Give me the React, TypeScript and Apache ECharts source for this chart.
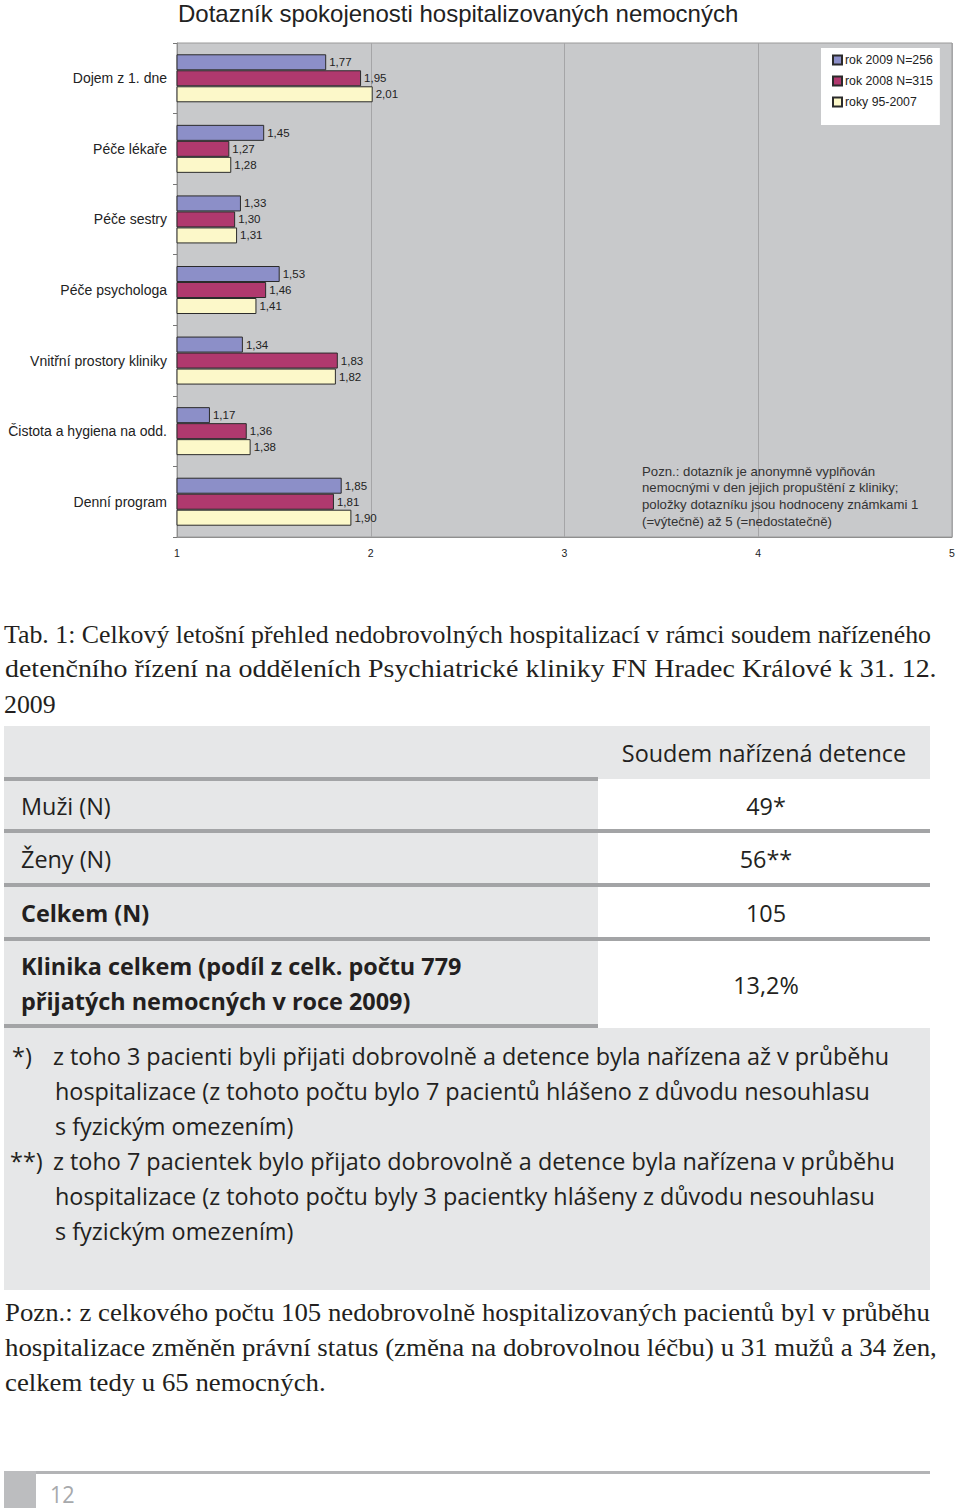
import React, { useEffect, useRef } from "react";
import * as echarts from "echarts";

// ---------- chart data ----------
const chartTitle = "Dotazník spokojenosti hospitalizovaných nemocných";
const categories = [
  "Dojem z 1. dne",
  "Péče lékaře",
  "Péče sestry",
  "Péče psychologa",
  "Vnitřní prostory kliniky",
  "Čistota a hygiena na odd.",
  "Denní program",
];
const seriesNames = ["rok 2009 N=256", "rok 2008 N=315", "roky 95-2007"];
const values2009 = [1.77, 1.45, 1.33, 1.53, 1.34, 1.17, 1.85];
const values2008 = [1.95, 1.27, 1.3, 1.46, 1.83, 1.36, 1.81];
const values9507 = [2.01, 1.28, 1.31, 1.41, 1.82, 1.38, 1.9];
const xMin = 1;
const xMax = 5;
const xInterval = 1;
const chartNote = [
  "Pozn.: dotazník je anonymně vyplňován",
  "nemocnými v den jejich propuštění z kliniky;",
  "položky dotazníku jsou hodnoceny známkami 1",
  "(=výtečně) až 5 (=nedostatečně)",
];

// ---------- page text / table data ----------
const captionLines = [
  "Tab. 1: Celkový letošní přehled nedobrovolných hospitalizací v rámci soudem nařízeného",
  "detenčního řízení na odděleních Psychiatrické kliniky FN Hradec Králové k 31. 12.",
  "2009",
];
const tableHeader = "Soudem nařízená detence";
const rowLabels = [
  ["Muži (N)"],
  ["Ženy (N)"],
  ["Celkem (N)"],
  ["Klinika celkem (podíl z celk. počtu 779", "přijatých nemocných v roce 2009)"],
];
const rowBold = [false, false, true, true];
const rowValues = ["49*", "56**", "105", "13,2%"];
const footnoteMarks = ["*)", "**)"];
const footnote1 = [
  "z toho 3 pacienti byli přijati dobrovolně a detence byla nařízena až v průběhu",
  "hospitalizace (z tohoto počtu bylo 7 pacientů hlášeno z důvodu nesouhlasu",
  "s fyzickým omezením)",
];
const footnote2 = [
  "z toho 7 pacientek bylo přijato dobrovolně a detence byla nařízena v průběhu",
  "hospitalizace (z tohoto počtu byly 3 pacientky hlášeny z důvodu nesouhlasu",
  "s fyzickým omezením)",
];
const noteLines = [
  "Pozn.: z celkového počtu 105 nedobrovolně hospitalizovaných pacientů byl v průběhu",
  "hospitalizace změněn právní status (změna na dobrovolnou léčbu) u 31 mužů a 34 žen,",
  "celkem tedy u 65 nemocných.",
];
const pageNumber = "12";

// ---------- styling ----------
const SANS = "Liberation Sans";
const SERIF = "Liberation Serif";
const BODY = "Open Sans";
const SERIF_SIZE = 25;
const BODY_SIZE = 24;
const TEXT_DARK = "#231f20";
const colors = ["#8c8fc8", "#b0396e", "#fcf8c9"];

function measure(text: string, font: string): number {
  const c = document.createElement("canvas").getContext("2d");
  if (!c) return 0;
  c.font = font;
  return c.measureText(text).width;
}
function fitScale(text: string, family: string, size: number, weight: string, target: number): number {
  const w = measure(text, `${weight} ${size}px "${family}"`);
  if (!w) return 1;
  return Math.max(0.6, Math.min(1.3, target / w));
}

function txt(
  text: string,
  x: number,
  y: number,
  o: { family: string; size: number; weight?: string; color?: string; align?: string; scale?: number; lineHeight?: number; vAlign?: string }
) {
  return {
    type: "text",
    x,
    y,
    scaleX: o.scale ?? 1,
    z: 100,
    silent: true,
    style: {
      text,
      fill: o.color ?? TEXT_DARK,
      fontFamily: o.family,
      fontSize: o.size,
      fontWeight: o.weight ?? "normal",
      textAlign: o.align ?? "left",
      align: o.align ?? "left",
      textVerticalAlign: o.vAlign ?? "middle",
      verticalAlign: o.vAlign ?? "middle",
      lineHeight: o.lineHeight,
    },
  };
}
function rect(x: number, y: number, w: number, h: number, fill: string) {
  return { type: "rect", z: 50, silent: true, shape: { x, y, width: w, height: h }, style: { fill } };
}

export default function App() {
  const ref = useRef<HTMLDivElement>(null);
  useEffect(() => {
    if (!ref.current) return;
    const chart = echarts.init(ref.current, undefined, { renderer: "svg" });

    const capS1 = fitScale(captionLines[0], SERIF, SERIF_SIZE, "normal", 928);
    const capS2 = fitScale(captionLines[1], SERIF, SERIF_SIZE, "normal", 932);
    const noteS1 = fitScale(noteLines[0], SERIF, SERIF_SIZE, "normal", 925);
    const noteS2 = fitScale(noteLines[1], SERIF, SERIF_SIZE, "normal", 932);
    const bodyS = fitScale(footnote1[0], BODY, BODY_SIZE, "normal", 837);

    const g: any[] = [];
    // chart note inside plot
    g.push(
      txt(chartNote.join("\n"), 642, 463, {
        family: SANS,
        size: 13.2,
        color: "#333",
        lineHeight: 16.6,
        vAlign: "top",
      })
    );
    // caption
    const capY = [634, 669, 704];
    const capX = [4, 5, 4];
    const capScales = [capS1, capS2, capS1];
    captionLines.forEach((l, i) =>
      g.push(txt(l, capX[i], capY[i], { family: SERIF, size: SERIF_SIZE, scale: capScales[i] }))
    );
    // table backgrounds
    const GRAY = "#e6e7e8";
    const RULE = "#a3a4a6";
    g.push(rect(4, 726, 926, 53, GRAY));
    g.push(rect(4, 779, 594, 249, GRAY));
    g.push(rect(4, 1028, 926, 262, GRAY));
    // rules
    g.push(rect(4, 777, 594, 4, RULE));
    g.push(rect(4, 829, 926, 4, RULE));
    g.push(rect(4, 883, 926, 4, RULE));
    g.push(rect(4, 937, 926, 4, RULE));
    g.push(rect(4, 1024, 594, 4, RULE));
    // header
    g.push(txt(tableHeader, 764, 753, { family: BODY, size: BODY_SIZE, align: "center", scale: bodyS }));
    // rows
    const rowY = [806, 859, 913, 985];
    rowLabels.forEach((lines, i) => {
      const weight = rowBold[i] ? "bold" : "normal";
      if (lines.length === 1) {
        g.push(txt(lines[0], 21, rowY[i], { family: BODY, size: BODY_SIZE, weight, scale: bodyS }));
      } else {
        g.push(txt(lines[0], 21, rowY[i] - 19, { family: BODY, size: BODY_SIZE, weight, scale: bodyS }));
        g.push(txt(lines[1], 21, rowY[i] + 16, { family: BODY, size: BODY_SIZE, weight, scale: bodyS }));
      }
      g.push(txt(rowValues[i], 766, rowY[i], { family: BODY, size: BODY_SIZE, align: "center", scale: bodyS }));
    });
    // footnotes
    g.push(txt(footnoteMarks[0], 12, 1056, { family: BODY, size: BODY_SIZE, scale: bodyS }));
    g.push(txt(footnoteMarks[1], 10, 1161, { family: BODY, size: BODY_SIZE, scale: bodyS }));
    footnote1.forEach((l, i) =>
      g.push(txt(l, i === 0 ? 53 : 55, 1056 + i * 35, { family: BODY, size: BODY_SIZE, scale: bodyS }))
    );
    footnote2.forEach((l, i) =>
      g.push(txt(l, i === 0 ? 53 : 55, 1161 + i * 35, { family: BODY, size: BODY_SIZE, scale: bodyS }))
    );
    // note below table
    const noteScales = [noteS1, noteS2, noteS1];
    noteLines.forEach((l, i) =>
      g.push(txt(l, 5, 1313 + i * 35, { family: SERIF, size: SERIF_SIZE, scale: noteScales[i] }))
    );
    // footer
    g.push(rect(36, 1471, 894, 3, "#b3b4b6"));
    g.push(rect(4, 1471, 32, 37, "#bcbdbf"));
    g.push(txt(pageNumber, 50, 1494, { family: BODY, size: 24, color: "#a7a9ac", scale: 0.9, lineHeight: 24 }));

    const dataSets = [values2009, values2008, values9507];
    const option: any = {
      animation: false,
      backgroundColor: "#ffffff",
      textStyle: { fontFamily: SANS },
      title: {
        text: chartTitle,
        left: 178,
        top: 1,
        padding: 0,
        textStyle: { fontFamily: SANS, fontSize: 24, fontWeight: "normal", color: "#222" },
      },
      legend: {
        orient: "vertical",
        left: 821,
        top: 48,
        padding: [5, 7, 16, 11],
        backgroundColor: "#ffffff",
        icon: "rect",
        itemWidth: 9,
        itemHeight: 9,
        itemGap: 7,
        data: seriesNames,
        textStyle: { fontFamily: SANS, fontSize: 12.3, color: "#222", lineHeight: 14, padding: [0, 0, 0, -2] },
      },
      grid: {
        left: 177,
        right: 8,
        top: 43,
        bottom: 1511 - 537,
        show: true,
        backgroundColor: "#c8c9cb",
        borderColor: "#9a9a9a",
        borderWidth: 1,
        containLabel: false,
      },
      xAxis: {
        type: "value",
        min: xMin,
        max: xMax,
        interval: xInterval,
        axisLine: { show: true, lineStyle: { color: "#8f8f8f" } },
        axisTick: { show: false },
        axisLabel: { fontFamily: SANS, fontSize: 10.5, color: "#222", margin: 10 },
        splitLine: { show: true, lineStyle: { color: "#a5a5a7", width: 1 } },
      },
      yAxis: {
        type: "category",
        data: categories,
        inverse: true,
        axisLine: { show: true, lineStyle: { color: "#8f8f8f" } },
        axisTick: { show: true, length: 4, lineStyle: { color: "#777" } },
        axisLabel: { fontFamily: SANS, fontSize: 14, color: "#222", margin: 10 },
        splitLine: { show: false },
      },
      series: dataSets.map((d, i) => ({
        name: seriesNames[i],
        type: "bar",
        data: d,
        barWidth: 16,
        barGap: "0%",
        clip: true,
        itemStyle: { color: colors[i], borderColor: "#2b2b2b", borderWidth: 1 },
        label: {
          show: true,
          position: "right",
          distance: 3,
          fontFamily: SANS,
          fontSize: 11.5,
          color: "#222",
          formatter: (p: any) => Number(p.value).toFixed(2).replace(".", ","),
        },
      })),
      graphic: { elements: g },
    };
    chart.setOption(option);
    return () => chart.dispose();
  }, []);
  return (
    <div style={{ position: "absolute", left: 0, top: 0, width: 960, height: 1511, background: "#fff" }}>
      <div ref={ref} style={{ width: 960, height: 1511 }} />
    </div>
  );
}
